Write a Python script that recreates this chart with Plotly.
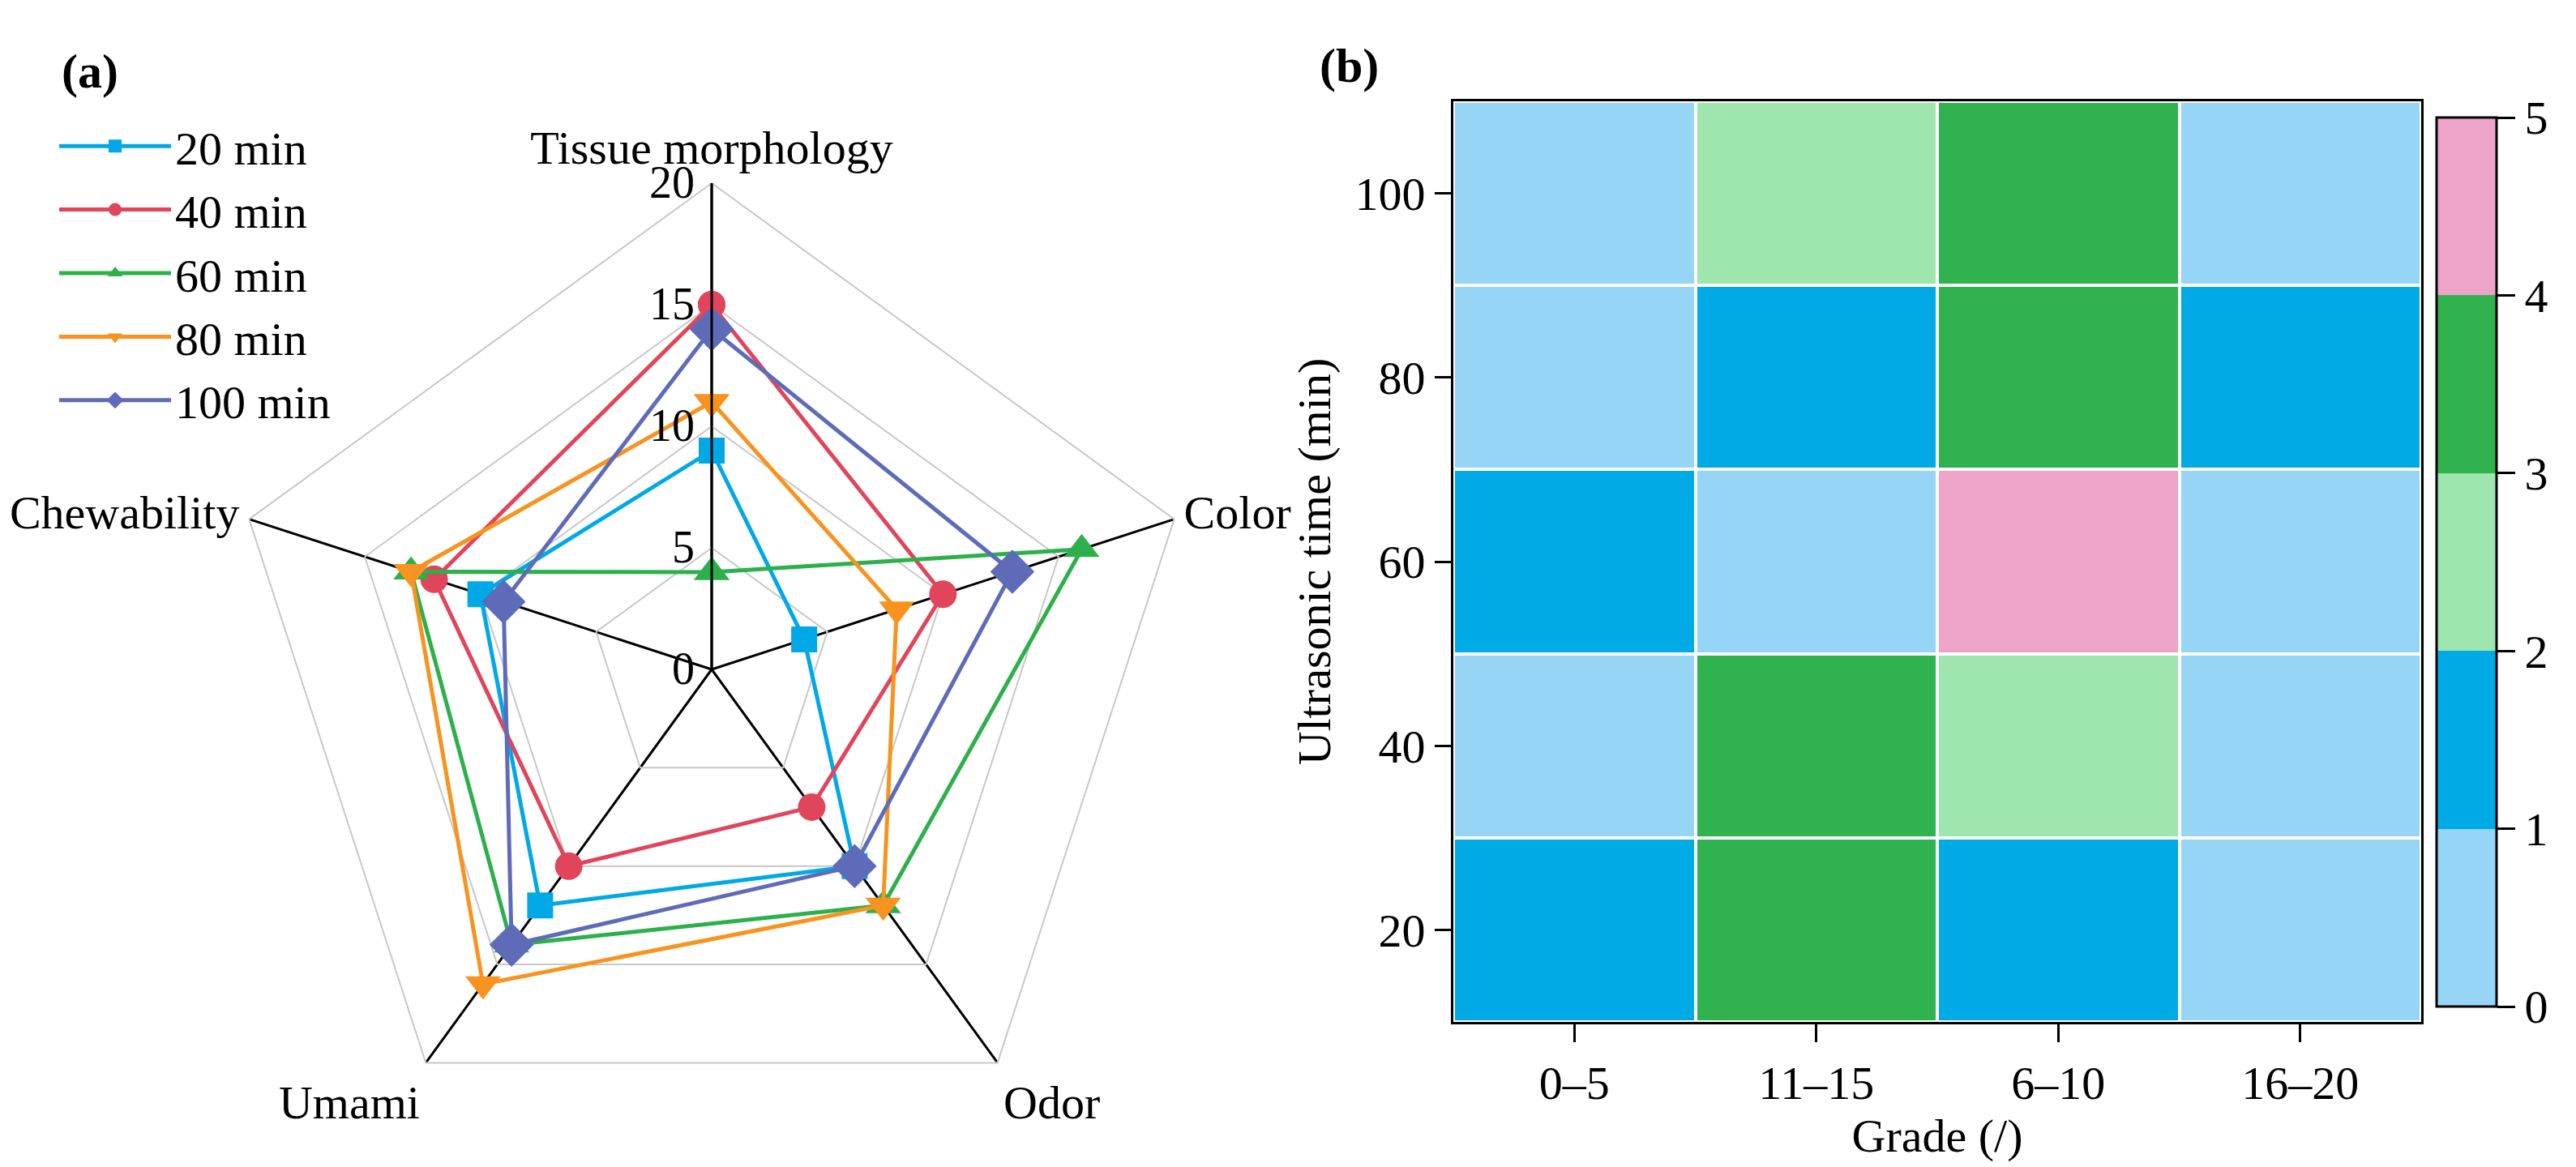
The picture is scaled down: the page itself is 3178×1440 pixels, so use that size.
import plotly.graph_objects as go

# ---------------- data ----------------
categories = ["Tissue morphology", "Color", "Odor", "Umami", "Chewability"]
series_names = ["20 min", "40 min", "60 min", "80 min", "100 min"]
scores_20 = [9, 4, 10, 12, 10]
scores_40 = [15, 10, 7, 10, 12]
scores_60 = [4, 16, 12, 14, 13]
scores_80 = [11, 8, 12, 16, 13]
scores_100 = [14, 13, 10, 14, 9]
radial_ticks = [0, 5, 10, 15, 20]

grade_labels = ["0\u20135", "11\u201315", "6\u201310", "16\u201320"]
time_values = [20, 40, 60, 80, 100]
counts = [
    [1, 3, 1, 0],   # 20 min
    [0, 3, 2, 0],   # 40 min
    [1, 0, 4, 0],   # 60 min
    [0, 1, 3, 1],   # 80 min
    [0, 2, 3, 0],   # 100 min
]
cbar_ticks = [0, 1, 2, 3, 4, 5]

# ---------------- styles ----------------
FONT = "Liberation Serif"
W, H = 3178, 1440
line_colors = ["#00A9E6", "#E0455C", "#2DB04B", "#F7931E", "#5E6BB8"]
symbols = ["square", "circle", "triangle-up", "triangle-down", "diamond"]
msizes = [32, 34, 38, 38, 42]
bin_colors = ["#96D5F5", "#00AAE4", "#9EE6AE", "#30B24F", "#EDA4C8"]

fig = go.Figure()

all_scores = [scores_20, scores_40, scores_60, scores_80, scores_100]
for name, vals, col, sym, ms in zip(series_names, all_scores, line_colors, symbols, msizes):
    fig.add_trace(go.Scatterpolar(
        r=vals + vals[:1],
        theta=categories + categories[:1],
        mode="lines+markers",
        name=name,
        line=dict(color=col, width=5),
        marker=dict(symbol=sym, size=ms, color=col),
        subplot="polar",
    ))

# discrete colour scale, value k falls in bin [k, k+1)
eps = 1e-4
cs = []
for i, c in enumerate(bin_colors):
    lo = i / 5
    hi = (i + 1) / 5
    cs.append([lo, c])
    cs.append([hi - eps if i < 4 else 1.0, c])

fig.add_trace(go.Heatmap(
    x=grade_labels,
    y=time_values,
    z=counts,
    zmin=0, zmax=5,
    colorscale=cs,
    xgap=4, ygap=4,
    showscale=True,
    showlegend=False,
    colorbar=dict(
        thickness=74, thicknessmode="pixels",
        len=1097, lenmode="pixels",
        x=2998 / W, xanchor="left", xpad=0,
        y=(H - 685.5) / H, yanchor="middle", ypad=0,
        outlinecolor="black", outlinewidth=3,
        tickvals=cbar_ticks,
        ticks="outside", ticklen=22, tickwidth=3, tickcolor="black",
        tickfont=dict(family=FONT, size=58, color="black"),
    ),
    xaxis="x", yaxis="y",
))

cx, cy, R = 870, 818, 600
fig.update_layout(
    width=W, height=H,
    margin=dict(l=0, r=0, t=0, b=0),
    paper_bgcolor="white",
    plot_bgcolor="white",
    font=dict(family=FONT, color="black", size=56),
    showlegend=True,
    legend=dict(
        x=60 / W, y=(H - 128) / H, xanchor="left", yanchor="top",
        bgcolor="rgba(0,0,0,0)",
        font=dict(family=FONT, size=58, color="black"),
        itemwidth=138,
        itemsizing="trace",
        tracegroupgap=0,
    ),
    polar=dict(
        domain=dict(x=[(cx - R) / W, (cx + R) / W], y=[(H - cy - R) / H, (H - cy + R) / H]),
        bgcolor="white",
        gridshape="linear",
        radialaxis=dict(
            range=[0, 20], tickvals=radial_ticks,
            angle=90, side="counterclockwise", tickangle=90,
            showline=True, linecolor="black", linewidth=3,
            gridcolor="#C8C8C8", gridwidth=2,
            ticks="", tickfont=dict(family=FONT, size=56, color="black"),
        ),
        angularaxis=dict(
            rotation=90, direction="clockwise",
            categoryorder="array", categoryarray=categories,
            showline=True, linecolor="#C8C8C8", linewidth=2,
            gridcolor="black", gridwidth=3,
            ticks="", tickfont=dict(family=FONT, size=58, color="black"),
        ),
    ),
    xaxis=dict(
        domain=[1785 / W, 2979 / W],
        type="category",
        categoryorder="array", categoryarray=grade_labels,
        showline=True, mirror=True, linecolor="black", linewidth=3,
        ticks="outside", ticklen=22, tickwidth=3, tickcolor="black",
        tickfont=dict(family=FONT, size=58, color="black"),
        title=dict(text="Grade (/)", font=dict(family=FONT, size=58, color="black"), standoff=0),
        showgrid=False, zeroline=False,
    ),
    yaxis=dict(
        domain=[(H - 1253) / H, (H - 117) / H],
        range=[10, 110],
        tickvals=time_values,
        showline=True, mirror=True, linecolor="black", linewidth=3,
        ticks="outside", ticklen=20, tickwidth=3, tickcolor="black",
        tickfont=dict(family=FONT, size=58, color="black"),
        title=dict(text="Ultrasonic time (min)", font=dict(family=FONT, size=58, color="black"), standoff=12),
        showgrid=False, zeroline=False,
    ),
    annotations=[
        dict(text="<b>(a)</b>", x=66 / W, y=(H - 45) / H, xref="paper", yref="paper",
             xanchor="left", yanchor="top", showarrow=False,
             font=dict(family=FONT, size=60, color="black")),
        dict(text="<b>(b)</b>", x=1618 / W, y=(H - 38) / H, xref="paper", yref="paper",
             xanchor="left", yanchor="top", showarrow=False,
             font=dict(family=FONT, size=60, color="black")),
    ],
)

fig.write_html("out.html")
